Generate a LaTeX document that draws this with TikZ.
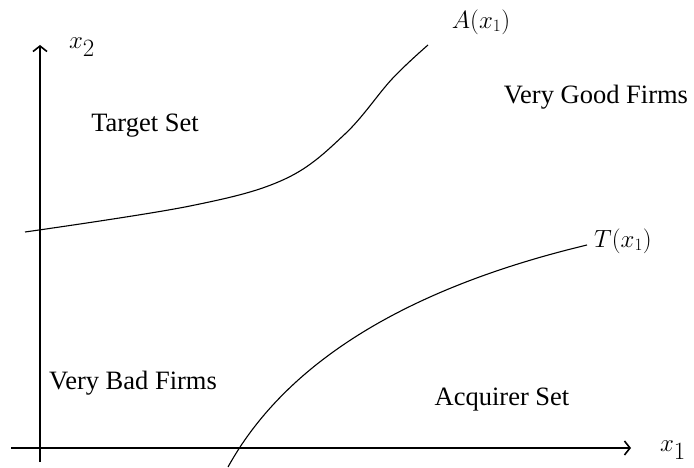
\documentclass[tikz,border=0pt]{standalone}
\usepackage{fontspec}
\setmainfont{Liberation Serif}
\usetikzlibrary{arrows.meta}
\begin{document}
\begin{tikzpicture}[x=1pt,y=-1pt,
  axis/.style={line width=1.3pt,-{Straight Barb[length=5.5pt,width=14pt,line width=1.6pt]}},
  curve/.style={line width=1.1pt},
  region/.style={font=\fontsize{26.5}{30}\selectfont,inner sep=0pt,anchor=base},
  curvelbl/.style={font=\fontsize{24}{28}\selectfont,inner sep=0pt},
  axislbl/.style={font=\fontsize{34}{40}\selectfont,inner sep=0pt}]
\useasboundingbox (0,0) rectangle (694,468);
% axes
\coordinate (ybot) at (40,462);
\coordinate (ytop) at (40,45);
\coordinate (xleft) at (11,448);
\coordinate (xright) at (631,448);
\draw[axis] (ybot) -- (ytop);
\draw[axis] (xleft) -- (xright);
% curves
\draw[curve] plot[smooth,tension=0.6] coordinates {(25,232) (190,206) (285,179) (345,134) (392,79) (428,45)};
\coordinate (t0) at (228,467);
\coordinate (t1) at (587,245);
\draw[curve] (t0) .. controls (290,355) and (420,285) .. (t1);
% labels
\node[region] (target) at (145,132) {Target Set};
\node[region] (good) at (596,104) {Very Good Firms};
\node[region] (bad) at (133,389) {Very Bad Firms};
\node[region] (acq) at (502,405) {Acquirer Set};
\node[curvelbl] (alabel) at (481,22) {$A(x_1)$};
\node[curvelbl] (tlabel) at (623,241) {$T(x_1)$};
\node[axislbl] (x2) at (82,47) {$x_2$};
\node[axislbl] (x1) at (673,450) {$x_1$};
\end{tikzpicture}
\end{document}
